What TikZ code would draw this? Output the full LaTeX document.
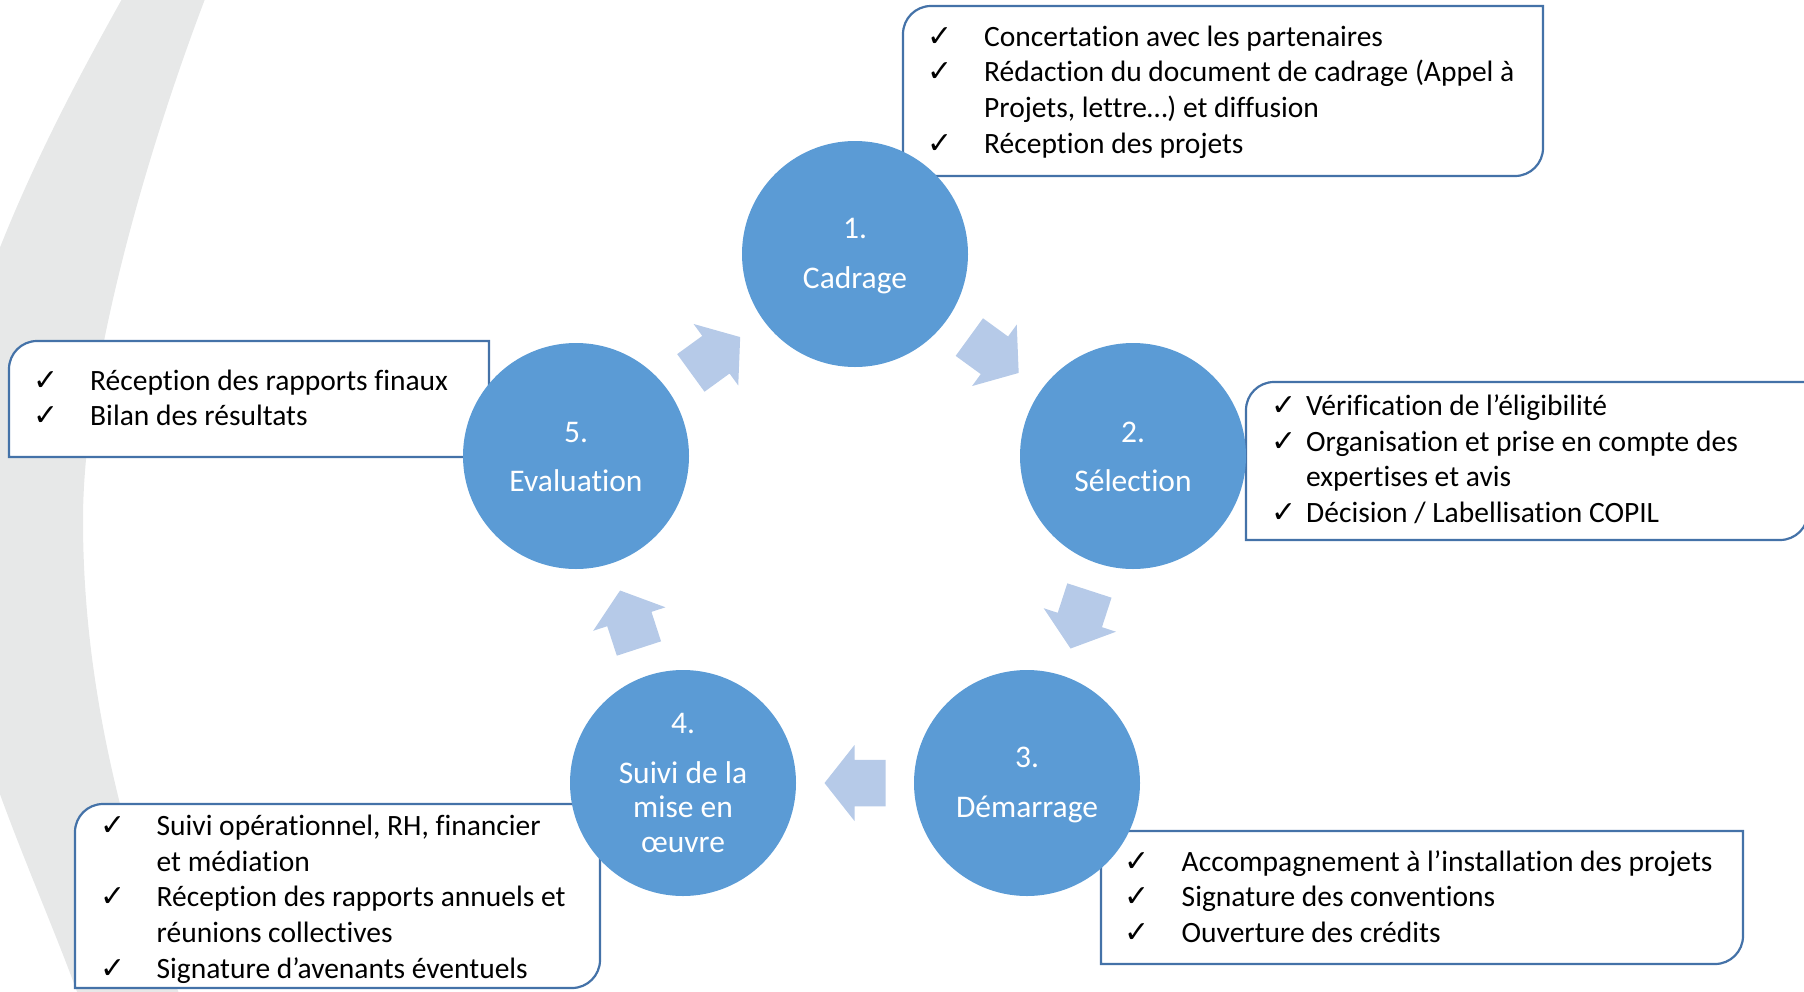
\documentclass[tikz,border=0pt]{standalone}
\usepackage{fontspec}
\setmainfont{Carlito}[RawFeature={-liga}]
\newfontfamily\chkfont{DejaVu Sans}
\usetikzlibrary{calc}

\definecolor{circblue}{RGB}{91,155,213}
\definecolor{arrblue}{RGB}{182,202,232}
\definecolor{ringgray}{RGB}{231,232,232}
\definecolor{boxblue}{RGB}{68,114,168}

\tikzset{
  stage/.style={circle, fill=circblue, minimum size=226pt, inner sep=0pt},
  stagetext/.style={inner sep=0pt, text=white, align=center,
    font=\fontsize{31.5}{34.5}\selectfont},
  flowarrow/.pic={\fill[arrblue] (-30.5,-23.25) -- (0.5,-23.25) -- (0.5,-38) -- (30.5,0)
    -- (0.5,38) -- (0.5,23.25) -- (-30.5,23.25) -- cycle;},
  boxframe/.style={draw=boxblue, line width=2.2pt, fill=white},
  item/.style={anchor=base west, inner sep=0pt, font=\fontsize{29.5}{35.7}\selectfont},
  tick/.style={anchor=base, inner sep=0pt, font=\chkfont\fontsize{30}{34}\selectfont},
}

\newcommand\roundbox[4]{%
  \draw[boxframe] (#1,#4) -- (#1,#2+28) arc[start angle=180,end angle=270,radius=28]
    -- (#3,#2) -- (#3,#4-28) arc[start angle=0,end angle=90,radius=28] -- cycle;}

\begin{document}
\begin{tikzpicture}[x=1pt,y=-1pt]
\useasboundingbox (0,0) rectangle (1804,991);
\clip (0,0) rectangle (1804,991);

% background crescent
\fill[ringgray] (122,-1) .. controls (60,110) and (-60,330) .. (-60,508)
  .. controls (-60,690) and (30,860) .. (80,1000)
  -- (185,1010) .. controls (130,860) and (83,700) .. (83,520)
  .. controls (83,380) and (140,170) .. (205,-1) -- cycle;

% text boxes
\roundbox{903}{6}{1543}{176}
\roundbox{1246}{382}{1808}{540}
\roundbox{1101}{831}{1743}{964}
\roundbox{75}{804}{600}{988}
\roundbox{9}{341}{489}{457}

% box 1
\node[tick] (t11) at (940,46) {✓};
\node[item] (l11) at (984,46) {Concertation avec les partenaires};
\node[tick] (t12) at (940,81.5) {✓};
\node[item] (l12) at (984,81.5) {Rédaction du document de cadrage (Appel à};
\node[item] (l13) at (984,117) {Projets, lettre…) et diffusion};
\node[tick] (t14) at (940,153) {✓};
\node[item] (l14) at (984,153) {Réception des projets};

% box 2
\node[tick] (t21) at (1284,415) {✓};
\node[item] (l21) at (1306,415) {Vérification de l’éligibilité};
\node[tick] (t22) at (1284,451) {✓};
\node[item] (l22) at (1306,451) {Organisation et prise en compte des};
\node[item] (l23) at (1306,486.5) {expertises et avis};
\node[tick] (t24) at (1284,522) {✓};
\node[item] (l24) at (1306,522) {Décision / Labellisation COPIL};

% box 3
\node[tick] (t31) at (1137,871) {✓};
\node[item] (l31) at (1181.5,871) {Accompagnement à l’installation des projets};
\node[tick] (t32) at (1137,906.5) {✓};
\node[item] (l32) at (1181.5,906.5) {Signature des conventions};
\node[tick] (t33) at (1137,942) {✓};
\node[item] (l33) at (1181.5,942) {Ouverture des crédits};

% box 4
\node[tick] (t41) at (113,835) {✓};
\node[item] (l41) at (156.5,835) {Suivi opérationnel, RH, financier};
\node[item] (l42) at (156.5,871) {et médiation};
\node[tick] (t43) at (113,906.5) {✓};
\node[item] (l43) at (156.5,906.5) {Réception des rapports annuels et};
\node[item] (l44) at (156.5,942) {réunions collectives};
\node[tick] (t45) at (113,978) {✓};
\node[item] (l45) at (156.5,978) {Signature d’avenants éventuels};

% box 5
\node[tick] (t51) at (46,390) {✓};
\node[item] (l51) at (90,390) {Réception des rapports finaux};
\node[tick] (t52) at (46,425) {✓};
\node[item] (l52) at (90,425) {Bilan des résultats};

% stages
\node[stage] (c1) at (855,254) {};
\node[stage] (c2) at (1133,456) {};
\node[stage] (c3) at (1027,783) {};
\node[stage] (c4) at (683,783) {};
\node[stage] (c5) at (576,456) {};
\node[stagetext] (s1) at ([yshift=-2pt]c1.center) {1.\\[15pt]Cadrage};
\node[stagetext] (s2) at ([yshift=-1pt]c2.center) {2.\\[15pt]Sélection};
\node[stagetext] (s3) at ([yshift=-2pt]c3.center) {3.\\[15pt]Démarrage};
\node[stagetext] (s4) at (c4.center) {4.\\[15pt]Suivi de la\\mise en\\œuvre};
\node[stagetext] (s5) at ([yshift=-1pt]c5.center) {5.\\[15pt]Evaluation};

% arrows
\pic[rotate=-36] (a12) at ($(c1)!0.5!(c2)$) {flowarrow};
\pic[rotate=-108] (a23) at ($(c2)!0.5!(c3)$) {flowarrow};
\pic[rotate=180] (a34) at ($(c3)!0.5!(c4)$) {flowarrow};
\pic[rotate=108] (a45) at ($(c4)!0.5!(c5)$) {flowarrow};
\pic[rotate=36] (a51) at ($(c5)!0.5!(c1)$) {flowarrow};
\end{tikzpicture}
\end{document}
